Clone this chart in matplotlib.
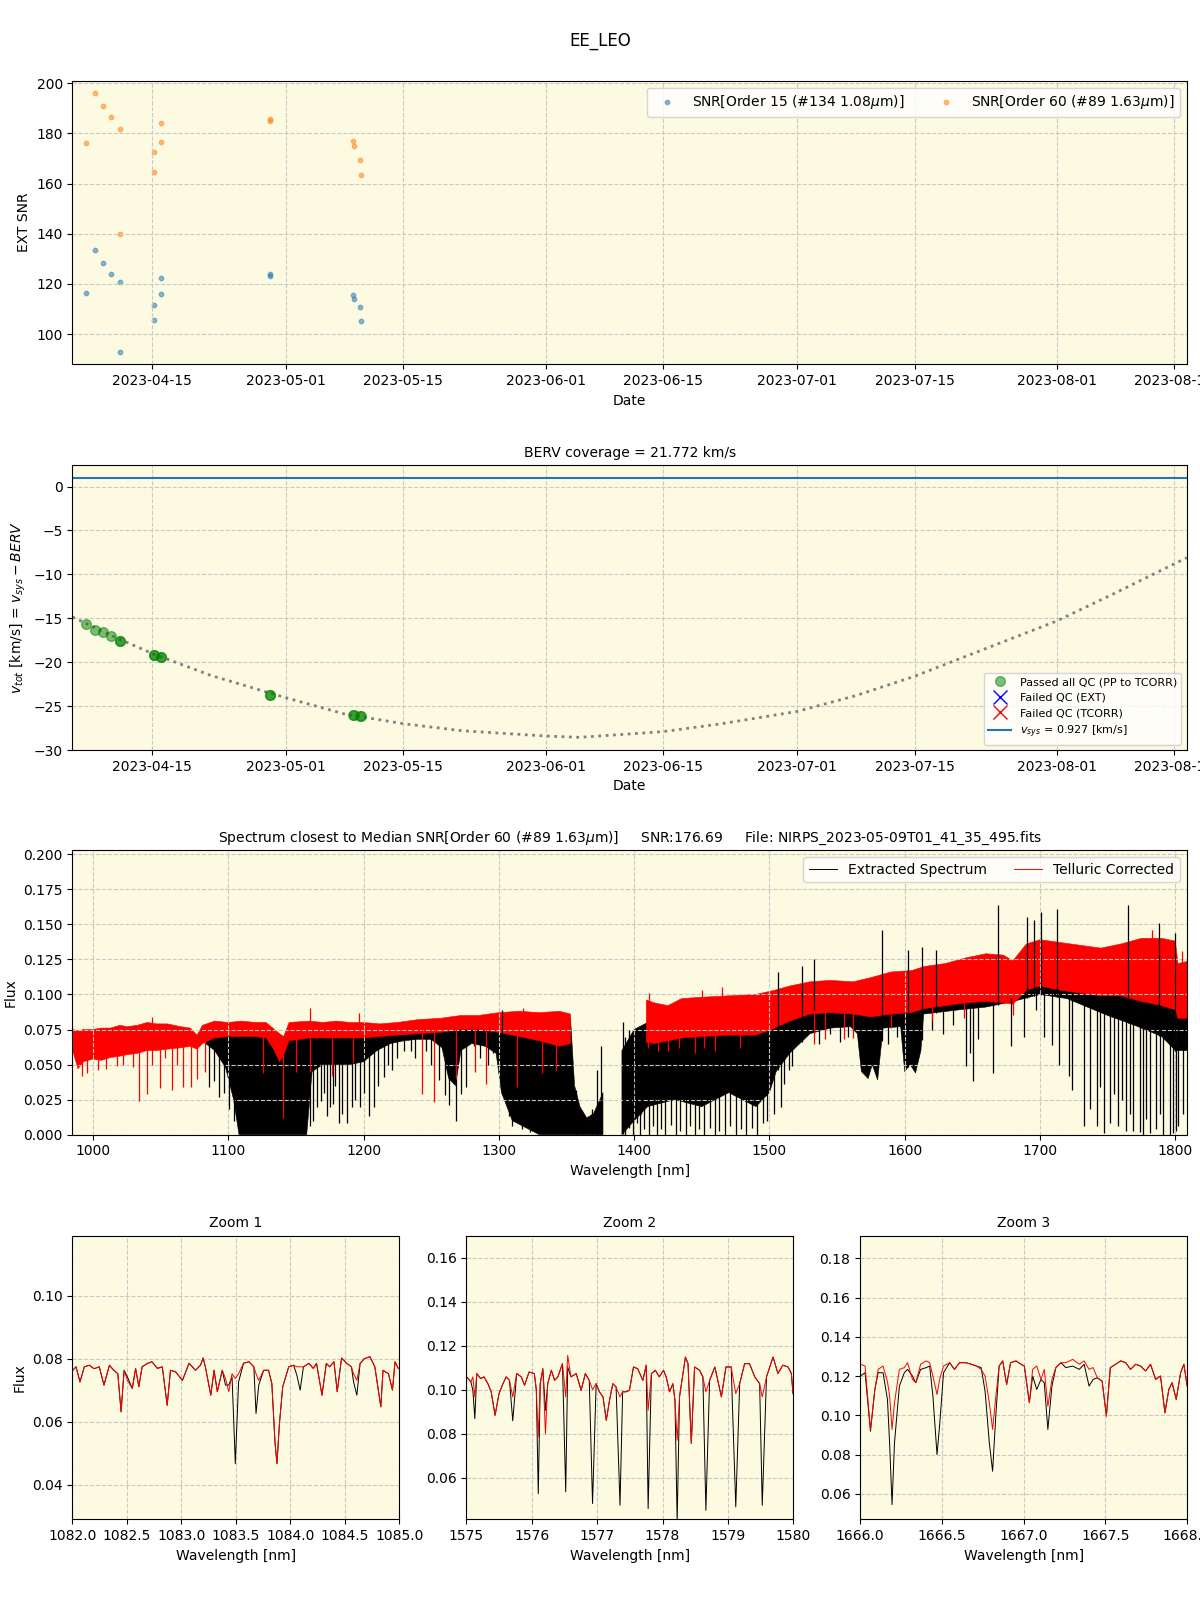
import numpy as np
import pandas as pd
import matplotlib
matplotlib.use('Agg')
import matplotlib.pyplot as plt
import matplotlib.dates as mdates
from matplotlib.lines import Line2D
from matplotlib.ticker import MultipleLocator

obs_dates = ['2023-04-07 03:20', '2023-04-08 04:50', '2023-04-09 04:05', '2023-04-10 02:55',
             '2023-04-11 04:30', '2023-04-11 04:40', '2023-04-15 05:40', '2023-04-15 05:50',
             '2023-04-16 01:40', '2023-04-16 01:50', '2023-04-29 01:10', '2023-04-29 01:20',
             '2023-05-08 22:20', '2023-05-09 01:41', '2023-05-09 21:00', '2023-05-09 21:10']
snr_o15 = [116.3, 133.5, 128.3, 123.9, 120.7, 92.8, 111.6, 105.6,
           122.3, 115.9, 123.9, 123.1, 115.5, 113.9, 110.8, 105.2]
snr_o60 = [176.1, 196.0, 190.8, 186.5, 181.7, 139.9, 172.5, 164.5,
           184.1, 176.5, 185.8, 185.0, 176.9, 174.9, 169.3, 163.3]
vtot = [-15.6, -16.3, -16.6, -17.0, -17.6, -17.6, -19.2, -19.2,
        -19.35, -19.35, -23.7, -23.7, -26.05, -26.05, -26.1, -26.1]

berv_dates = ['2023-04-05 12:00', '2023-04-10 00:00', '2023-04-15 00:00', '2023-04-22 00:00',
              '2023-05-01 00:00', '2023-05-08 00:00', '2023-05-15 00:00', '2023-05-22 00:00',
              '2023-06-01 00:00', '2023-06-05 00:00', '2023-06-15 00:00', '2023-06-22 00:00',
              '2023-07-01 00:00', '2023-07-08 00:00', '2023-07-15 00:00', '2023-07-22 00:00',
              '2023-08-01 00:00', '2023-08-08 00:00', '2023-08-16 12:00']
berv_vtot = [-14.85, -16.9, -19.0, -21.5, -24.05, -25.9, -27.0, -27.8, -28.4, -28.55,
             -27.9, -27.0, -25.6, -23.8, -21.6, -19.0, -15.3, -12.1, -8.1]
vsys = 0.927

# ---- full spectrum: envelopes and individual lines ----
blk_wl = [985, 990, 1000, 1010, 1020, 1030, 1040, 1050, 1060, 1070, 1078, 1082, 1090, 1098,
          1104, 1108, 1120, 1130, 1136, 1142, 1150, 1158, 1162, 1170, 1180, 1190, 1200, 1210,
          1220, 1230, 1240, 1250, 1258, 1263, 1268, 1272, 1280, 1290, 1298, 1302, 1310, 1320,
          1330, 1340, 1350, 1353, 1356, 1360, 1365, 1370, 1377, 1378, 1390, 1391, 1400, 1410,
          1430, 1450, 1470, 1490, 1500, 1505, 1515, 1530, 1545, 1560, 1565, 1568, 1573, 1576,
          1580, 1584, 1597, 1600, 1604, 1608, 1612, 1614, 1640, 1660, 1680, 1700, 1720, 1730,
          1750, 1770, 1790, 1800, 1811]
blk_hi = [0.073, 0.072, 0.072, 0.073, 0.074, 0.075, 0.077, 0.077, 0.076, 0.074, 0.069, 0.075,
          0.078, 0.078, 0.078, 0.078, 0.078, 0.077, 0.068, 0.070, 0.078, 0.078, 0.078, 0.078,
          0.078, 0.078, 0.077, 0.077, 0.077, 0.078, 0.079, 0.080, 0.080, 0.078, 0.078, 0.081,
          0.082, 0.083, 0.084, 0.085, 0.085, 0.085, 0.085, 0.085, 0.084, 0.083, 0.035, 0.020,
          0.012, 0.015, 0.030, np.nan, np.nan, 0.060, 0.075, 0.080, 0.080, 0.082, 0.085, 0.087,
          0.090, 0.095, 0.100, 0.104, 0.106, 0.106, 0.104, 0.103, 0.104, 0.105, 0.106, 0.108,
          0.110, 0.111, 0.111, 0.112, 0.113, 0.115, 0.119, 0.124, 0.120, 0.130, 0.130, 0.128,
          0.128, 0.130, 0.130, 0.120, 0.115]
blk_lo = [0.062, 0.055, 0.056, 0.057, 0.058, 0.060, 0.062, 0.063, 0.064, 0.065, 0.064, 0.066,
          0.060, 0.048, 0.025, 0.0, 0.0, 0.0, 0.0, 0.0, 0.0, 0.0, 0.045, 0.050, 0.050, 0.050,
          0.052, 0.060, 0.065, 0.067, 0.068, 0.068, 0.062, 0.040, 0.035, 0.060, 0.065, 0.063,
          0.058, 0.030, 0.010, 0.005, 0.0, 0.0, 0.0, 0.0, 0.0, 0.0, 0.0, 0.0, 0.0, np.nan,
          np.nan, 0.0, 0.010, 0.020, 0.025, 0.020, 0.030, 0.020, 0.030, 0.045, 0.058, 0.072,
          0.076, 0.077, 0.072, 0.045, 0.040, 0.050, 0.039, 0.076, 0.077, 0.045, 0.050, 0.044,
          0.060, 0.086, 0.089, 0.091, 0.095, 0.100, 0.097, 0.093, 0.085, 0.078, 0.070, 0.060,
          0.060]

red_wl = [985, 989, 993, 1000, 1006, 1013, 1020, 1025, 1033, 1040, 1047, 1055, 1065, 1072,
          1077, 1081, 1090, 1100, 1110, 1120, 1128, 1133, 1138, 1141, 1145, 1160, 1170, 1180,
          1190, 1200, 1212, 1225, 1240, 1257, 1272, 1285, 1300, 1315, 1330, 1345, 1353, 1356,
          1409, 1415, 1425, 1435, 1450, 1470, 1490, 1504, 1515, 1530, 1545, 1562, 1575, 1590,
          1605, 1615, 1630, 1645, 1660, 1673, 1680, 1690, 1700, 1715, 1730, 1745, 1760, 1775,
          1790, 1800, 1802, 1811]
red_hi = [0.075, 0.074, 0.075, 0.075, 0.076, 0.076, 0.078, 0.077, 0.078, 0.080, 0.079, 0.079,
          0.077, 0.076, 0.071, 0.078, 0.081, 0.080, 0.081, 0.080, 0.080, 0.076, 0.072, 0.070,
          0.080, 0.081, 0.080, 0.081, 0.080, 0.080, 0.079, 0.080, 0.082, 0.083, 0.085, 0.085,
          0.087, 0.088, 0.087, 0.088, 0.086, np.nan, 0.096, 0.094, 0.092, 0.097, 0.098, 0.099,
          0.100, 0.103, 0.106, 0.109, 0.110, 0.109, 0.112, 0.116, 0.117, 0.120, 0.122, 0.126,
          0.129, 0.128, 0.124, 0.136, 0.139, 0.137, 0.135, 0.133, 0.136, 0.140, 0.140, 0.138,
          0.122, 0.124]
red_lo = [0.060, 0.047, 0.052, 0.054, 0.053, 0.055, 0.056, 0.057, 0.058, 0.060, 0.060, 0.061,
          0.062, 0.063, 0.061, 0.065, 0.069, 0.070, 0.070, 0.070, 0.069, 0.062, 0.052, 0.057,
          0.067, 0.069, 0.069, 0.069, 0.069, 0.069, 0.070, 0.071, 0.072, 0.073, 0.075, 0.075,
          0.073, 0.070, 0.067, 0.063, 0.065, np.nan, 0.066, 0.065, 0.067, 0.069, 0.070, 0.071,
          0.071, 0.076, 0.081, 0.086, 0.087, 0.086, 0.084, 0.086, 0.087, 0.090, 0.092, 0.094,
          0.095, 0.094, 0.093, 0.103, 0.106, 0.103, 0.101, 0.099, 0.099, 0.095, 0.092, 0.089,
          0.083, 0.083]

blk_line_wl = [1085.5, 1089.7, 1093, 1097, 1100.5, 1104, 1160.8, 1163, 1165.7, 1168.6, 1171,
               1173, 1175, 1177.3, 1179, 1181.7, 1184, 1187.9, 1191.5, 1194, 1197.7, 1200,
               1203.9, 1207.5, 1211, 1215, 1218, 1221, 1225, 1229.7, 1235, 1238, 1246, 1250,
               1255.7, 1260.6, 1263, 1268.5, 1271.7, 1276, 1281.6, 1286, 1292, 1296, 1301.3,
               1307.5, 1310, 1317.3, 1323, 1393, 1396.5, 1399, 1402, 1404.5, 1407, 1411, 1414,
               1417, 1420, 1423, 1427, 1431, 1434, 1438, 1441, 1445, 1448, 1452, 1456, 1460,
               1463, 1467, 1471, 1475, 1479, 1483, 1487, 1491, 1495, 1498, 1503.5, 1508.4,
               1510.9, 1514.6, 1517, 1520.8, 1525.7, 1530.5, 1537, 1545, 1552, 1558, 1588, 1594,
               1620, 1628, 1636, 1645, 1648.4, 1650.8, 1654, 1665.6, 1678.5, 1688.3, 1697, 1703,
               1708.8, 1714.2, 1721.6, 1723.3, 1732.2, 1737.2, 1741.8, 1744.5, 1747.5, 1752,
               1754.4, 1757.4, 1760.3, 1763.2, 1766.2, 1768.9, 1773.8, 1776.4, 1778.7, 1781.2,
               1786.1, 1788.5, 1791, 1796, 1798.3, 1800.7, 1802, 1806]
blk_line_min = [0.034, 0.038, 0.027, 0.030, 0.018, 0.010, 0.006, 0.010, 0.020, 0.024, 0.030,
                0.013, 0.020, 0.022, 0.035, 0.008, 0.015, 0.008, 0.020, 0.025, 0.020, 0.030,
                0.013, 0.020, 0.035, 0.041, 0.050, 0.046, 0.055, 0.060, 0.060, 0.055, 0.060,
                0.050, 0.039, 0.028, 0.021, 0.010, 0.029, 0.034, 0.063, 0.055, 0.050, 0.058,
                0.036, 0.013, 0.006, 0.004, 0.002, 0.0, 0.005, 0.0, 0.008, 0.0, 0.004, 0.0,
                0.006, 0.0, 0.004, 0.0, 0.007, 0.0, 0.003, 0.0, 0.006, 0.0, 0.004, 0.0, 0.005,
                0.0, 0.003, 0.0, 0.006, 0.0, 0.004, 0.0, 0.005, 0.0, 0.008, 0.010, 0.015, 0.020,
                0.036, 0.046, 0.049, 0.067, 0.072, 0.077, 0.065, 0.072, 0.066, 0.070, 0.065,
                0.070, 0.075, 0.072, 0.078, 0.049, 0.058, 0.038, 0.068, 0.044, 0.063, 0.070,
                0.089, 0.070, 0.064, 0.050, 0.042, 0.032, 0.006, 0.018, 0.006, 0.034, 0.001,
                0.008, 0.029, 0.006, 0.025, 0.003, 0.015, 0.003, 0.002, 0.0, 0.011, 0.001,
                0.004, 0.015, 0.0, 0.0, 0.001, 0.003, 0.006, 0.015]
blk_spike_wl = [1302, 1356.8, 1369, 1372.8, 1375.3, 1391.5, 1393, 1396, 1399, 1402, 1405,
                1506, 1524, 1533, 1583, 1602.8, 1612.6, 1623.2, 1669, 1690.3, 1695.2, 1700.7,
                1712.5, 1765.3, 1788.2, 1800]
blk_spike_max = [0.089, 0.032, 0.018, 0.046, 0.063, 0.080, 0.070, 0.075, 0.065, 0.075, 0.072,
                 0.116, 0.120, 0.125, 0.146, 0.132, 0.134, 0.132, 0.164, 0.155, 0.153, 0.159,
                 0.161, 0.164, 0.151, 0.144]
red_line_wl = [992, 996, 1004, 1010, 1018, 1022, 1029.6, 1034.2, 1039.9, 1043.6, 1049.8, 1053,
               1058.4, 1062, 1066.6, 1072.5, 1076.9, 1083, 1125.7, 1140.3, 1150, 1160.8, 1177,
               1192, 1243.4, 1252, 1268, 1282.3, 1290.2, 1313.6, 1332, 1342, 1410, 1418, 1425,
               1433, 1445, 1452, 1460, 1478, 1533, 1541, 1555, 1562, 1590, 1620, 1644, 1680]
red_line_min = [0.042, 0.044, 0.046, 0.047, 0.049, 0.050, 0.048, 0.024, 0.029, 0.050, 0.033,
                0.055, 0.032, 0.050, 0.034, 0.034, 0.040, 0.045, 0.044, 0.012, 0.045, 0.045,
                0.042, 0.052, 0.029, 0.023, 0.040, 0.045, 0.036, 0.034, 0.044, 0.046, 0.062,
                0.060, 0.060, 0.062, 0.058, 0.062, 0.060, 0.062, 0.065, 0.068, 0.068, 0.069,
                0.076, 0.082, 0.083, 0.085]
red_spike_wl = [1044, 1160.7, 1197, 1318, 1411, 1450, 1465, 1782.5, 1805]
red_spike_max = [0.084, 0.090, 0.087, 0.090, 0.101, 0.103, 0.105, 0.146, 0.131]

# ---- zoom windows ----
z1_wl = [1082.003, 1082.034, 1082.07, 1082.11, 1082.155, 1082.2, 1082.247, 1082.29, 1082.34,
         1082.38, 1082.417, 1082.447, 1082.475, 1082.505, 1082.55, 1082.58, 1082.61, 1082.64,
         1082.69, 1082.73, 1082.78, 1082.825, 1082.87, 1082.9, 1082.947, 1083.01, 1083.07,
         1083.13, 1083.175, 1083.2, 1083.22, 1083.27, 1083.3, 1083.33, 1083.375, 1083.405,
         1083.435, 1083.465, 1083.495, 1083.525, 1083.57, 1083.62, 1083.665, 1083.685, 1083.71,
         1083.755, 1083.8, 1083.83, 1083.86, 1083.877, 1083.9, 1083.93, 1083.985, 1084.03,
         1084.06, 1084.09, 1084.12, 1084.17, 1084.21, 1084.24, 1084.29, 1084.33, 1084.36,
         1084.4, 1084.43, 1084.47, 1084.517, 1084.56, 1084.58, 1084.61, 1084.64, 1084.68,
         1084.73, 1084.775, 1084.83, 1084.85, 1084.9, 1084.937, 1084.96, 1084.99]
z1_blk = [0.0763, 0.0774, 0.0726, 0.0774, 0.0779, 0.0768, 0.0774, 0.0716, 0.0779, 0.0763,
          0.0752, 0.0631, 0.0763, 0.0742, 0.0705, 0.0769, 0.0711, 0.0774, 0.0785, 0.0790,
          0.0769, 0.0774, 0.0652, 0.0763, 0.0758, 0.0731, 0.0785, 0.0763, 0.0779, 0.0802,
          0.0774, 0.0684, 0.0763, 0.0695, 0.0763, 0.0716, 0.0716, 0.0742, 0.0467, 0.0726,
          0.0785, 0.0790, 0.0774, 0.0626, 0.0716, 0.0763, 0.0763, 0.0721, 0.0530, 0.0467,
          0.0595, 0.0711, 0.0774, 0.0779, 0.0747, 0.0700, 0.0774, 0.0785, 0.0769, 0.0785,
          0.0684, 0.0785, 0.0774, 0.0790, 0.0695, 0.0802, 0.0785, 0.0774, 0.0726, 0.0684,
          0.0785, 0.0800, 0.0806, 0.0774, 0.0647, 0.0763, 0.0752, 0.0700, 0.0790, 0.0769]
z1_red = [0.0763, 0.0774, 0.0726, 0.0774, 0.0779, 0.0768, 0.0774, 0.0716, 0.0779, 0.0763,
          0.0752, 0.0631, 0.0763, 0.0731, 0.0705, 0.0769, 0.0711, 0.0774, 0.0785, 0.0790,
          0.0769, 0.0774, 0.0652, 0.0763, 0.0758, 0.0731, 0.0785, 0.0763, 0.0779, 0.0802,
          0.0774, 0.0684, 0.0763, 0.0695, 0.0763, 0.0737, 0.0695, 0.0752, 0.0737, 0.0752,
          0.0785, 0.0790, 0.0774, 0.0752, 0.0731, 0.0763, 0.0763, 0.0721, 0.0530, 0.0467,
          0.0595, 0.0711, 0.0774, 0.0779, 0.0774, 0.0774, 0.0774, 0.0785, 0.0769, 0.0785,
          0.0684, 0.0785, 0.0774, 0.0790, 0.0695, 0.0802, 0.0785, 0.0774, 0.0752, 0.0731,
          0.0785, 0.0800, 0.0806, 0.0774, 0.0647, 0.0763, 0.0752, 0.0700, 0.0790, 0.0769]

z2_wl = [1575.005, 1575.07, 1575.1, 1575.13, 1575.16, 1575.22, 1575.27, 1575.33, 1575.38,
         1575.44, 1575.5, 1575.56, 1575.61, 1575.66, 1575.71, 1575.77, 1575.84, 1575.89,
         1575.96, 1576.04, 1576.07, 1576.1, 1576.13, 1576.17, 1576.21, 1576.245, 1576.3,
         1576.35, 1576.4, 1576.47, 1576.52, 1576.55, 1576.6, 1576.68, 1576.755, 1576.82,
         1576.88, 1576.93, 1576.985, 1577.035, 1577.09, 1577.14, 1577.19, 1577.24, 1577.29,
         1577.35, 1577.39, 1577.44, 1577.495, 1577.556, 1577.62, 1577.7, 1577.75, 1577.78,
         1577.83, 1577.89, 1577.95, 1578.015, 1578.056, 1578.107, 1578.158, 1578.19, 1578.224,
         1578.26, 1578.35, 1578.39, 1578.44, 1578.49, 1578.566, 1578.617, 1578.663, 1578.72,
         1578.8, 1578.9, 1578.97, 1579.05, 1579.12, 1579.18, 1579.255, 1579.33, 1579.41,
         1579.485, 1579.525, 1579.59, 1579.69, 1579.765, 1579.84, 1579.92, 1579.97, 1579.995]
z2_blk = [0.1058, 0.1035, 0.0997, 0.0868, 0.1073, 0.1050, 0.1058, 0.1027, 0.0990, 0.0883,
          0.0982, 0.1027, 0.1058, 0.1042, 0.0858, 0.1073, 0.1058, 0.1020, 0.1080, 0.1073,
          0.1000, 0.0527, 0.1027, 0.1095, 0.0906, 0.1027, 0.1088, 0.1042, 0.1058, 0.1118,
          0.0535, 0.1103, 0.1058, 0.1073, 0.0997, 0.1073, 0.1042, 0.0482, 0.1027, 0.0990,
          0.0967, 0.0860, 0.0952, 0.1027, 0.1012, 0.0474, 0.0990, 0.0990, 0.0997, 0.1103,
          0.1095, 0.1042, 0.1111, 0.0459, 0.1073, 0.1088, 0.1058, 0.1088, 0.1058, 0.0990,
          0.1027, 0.0952, 0.0400, 0.0967, 0.1148, 0.1118, 0.0755, 0.1103, 0.1088, 0.1058,
          0.0451, 0.1042, 0.1103, 0.0967, 0.1103, 0.1103, 0.0467, 0.1027, 0.1118, 0.1118,
          0.1058, 0.1027, 0.0474, 0.1058, 0.1148, 0.1073, 0.1111, 0.1103, 0.1073, 0.0982]
z2_red = [0.1058, 0.1035, 0.1058, 0.0967, 0.1073, 0.1050, 0.1058, 0.1027, 0.0990, 0.0883,
          0.0982, 0.1027, 0.1058, 0.1042, 0.0967, 0.1073, 0.1058, 0.1020, 0.1080, 0.1073,
          0.1000, 0.0785, 0.1027, 0.1095, 0.0800, 0.1027, 0.1088, 0.1042, 0.1058, 0.1118,
          0.0967, 0.1156, 0.1058, 0.1073, 0.0997, 0.1073, 0.1042, 0.1000, 0.1027, 0.0990,
          0.0967, 0.0860, 0.0952, 0.1027, 0.1012, 0.0967, 0.0990, 0.0990, 0.0997, 0.1103,
          0.1095, 0.1042, 0.1111, 0.0906, 0.1073, 0.1088, 0.1058, 0.1088, 0.1058, 0.0990,
          0.1027, 0.0952, 0.0770, 0.0967, 0.1148, 0.1118, 0.0755, 0.1103, 0.1088, 0.1058,
          0.0990, 0.1042, 0.1103, 0.0967, 0.1103, 0.1103, 0.0982, 0.1027, 0.1118, 0.1118,
          0.1058, 0.1027, 0.0967, 0.1058, 0.1148, 0.1073, 0.1111, 0.1103, 0.1073, 0.0982]

z3_wl = [1666.002, 1666.03, 1666.063, 1666.09, 1666.11, 1666.14, 1666.167, 1666.18, 1666.195,
         1666.21, 1666.24, 1666.27, 1666.29, 1666.32, 1666.34, 1666.37, 1666.404, 1666.425,
         1666.445, 1666.47, 1666.486, 1666.51, 1666.547, 1666.577, 1666.608, 1666.648,
         1666.68, 1666.71, 1666.74, 1666.764, 1666.79, 1666.81, 1666.83, 1666.85, 1666.872,
         1666.896, 1666.92, 1666.953, 1666.984, 1667.004, 1667.035, 1667.055, 1667.08,
         1667.106, 1667.126, 1667.148, 1667.173, 1667.197, 1667.228, 1667.258, 1667.3,
         1667.34, 1667.37, 1667.4, 1667.425, 1667.45, 1667.48, 1667.506, 1667.53, 1667.563,
         1667.593, 1667.624, 1667.654, 1667.685, 1667.715, 1667.746, 1667.776, 1667.807,
         1667.837, 1667.864, 1667.888, 1667.908, 1667.933, 1667.96, 1667.98, 1668.0]
z3_blk = [0.1200, 0.1217, 0.0919, 0.1132, 0.1217, 0.1217, 0.1080, 0.0860, 0.0545, 0.0860,
          0.1149, 0.1217, 0.1234, 0.1200, 0.1166, 0.1234, 0.1243, 0.1251, 0.1098, 0.0800,
          0.0949, 0.1217, 0.1268, 0.1234, 0.1268, 0.1268, 0.1260, 0.1251, 0.1243, 0.1123,
          0.0860, 0.0715, 0.1004, 0.1251, 0.1277, 0.1157, 0.1268, 0.1277, 0.1260, 0.1251,
          0.1064, 0.1200, 0.1132, 0.1183, 0.1166, 0.0928, 0.1149, 0.1243, 0.1268, 0.1243,
          0.1251, 0.1234, 0.1260, 0.1149, 0.1183, 0.1191, 0.1174, 0.0996, 0.1243, 0.1260,
          0.1277, 0.1268, 0.1234, 0.1260, 0.1251, 0.1226, 0.1260, 0.1183, 0.1200, 0.1013,
          0.1132, 0.1166, 0.1081, 0.1217, 0.1260, 0.1149]
z3_red = [0.1260, 0.1251, 0.0928, 0.1132, 0.1234, 0.1251, 0.1170, 0.1100, 0.0928, 0.1064,
          0.1234, 0.1243, 0.1268, 0.1183, 0.1166, 0.1260, 0.1277, 0.1268, 0.1200, 0.1106,
          0.1183, 0.1251, 0.1268, 0.1234, 0.1268, 0.1268, 0.1260, 0.1251, 0.1234, 0.1200,
          0.1064, 0.0928, 0.1098, 0.1251, 0.1277, 0.1157, 0.1268, 0.1277, 0.1260, 0.1251,
          0.1064, 0.1234, 0.1251, 0.1183, 0.1234, 0.1047, 0.1183, 0.1243, 0.1268, 0.1268,
          0.1285, 0.1260, 0.1277, 0.1234, 0.1243, 0.1191, 0.1174, 0.0996, 0.1243, 0.1260,
          0.1277, 0.1268, 0.1234, 0.1260, 0.1251, 0.1226, 0.1260, 0.1183, 0.1200, 0.1013,
          0.1132, 0.1166, 0.1081, 0.1217, 0.1260, 0.1149]

bg = '#fcfae1'
grid_kw = dict(color='#c8c8c8', linestyle='--', linewidth=0.8)

fig = plt.figure(figsize=(12, 16), dpi=100)
fig.text(0.5, 0.9745, 'EE_LEO', ha='center', va='center', fontsize=12)

dates = pd.to_datetime(obs_dates, format='ISO8601')
xlim_dates = (pd.Timestamp('2023-04-05 12:00'), pd.Timestamp('2023-08-16 12:00'))

# ---- SNR panel ----
ax1 = fig.add_axes([0.0604, 0.7723, 0.9286, 0.1773])
ax1.set_facecolor(bg)
ax1.scatter(dates, snr_o15, s=10, alpha=0.5, color='C0', label=r'SNR[Order 15 (#134 1.08$\mu$m)]')
ax1.scatter(dates, snr_o60, s=10, alpha=0.5, color='C1', label=r'SNR[Order 60 (#89 1.63$\mu$m)]')
ax1.set_xlim(xlim_dates)
ax1.set_ylim(88, 201)
ax1.set_xlabel('Date')
ax1.set_ylabel('EXT SNR')
ax1.legend(loc='upper right', ncol=2)
ax1.grid(**grid_kw)

# ---- BERV panel ----
ax2 = fig.add_axes([0.0604, 0.5312, 0.9286, 0.1779])
ax2.set_facecolor(bg)
ax2.plot(pd.to_datetime(berv_dates, format='ISO8601'), berv_vtot, ':', color='gray', lw=2)
ax2.plot(dates, vtot, 'o', color='green', alpha=0.5, ms=7)
ax2.axhline(vsys, color='C0', lw=1.5)
ax2.set_xlim(xlim_dates)
ax2.set_ylim(-30, 2.4)
ax2.set_xlabel('Date')
ax2.set_ylabel(r'$v_{tot}$ [km/s] = $v_{sys} - BERV$')
ax2.set_title('BERV coverage = 21.772 km/s', fontsize=10)
handles = [Line2D([], [], marker='o', ls='', color='green', alpha=0.5, ms=7),
           Line2D([], [], marker='x', ls='', color='blue', ms=10),
           Line2D([], [], marker='x', ls='', color='red', ms=10),
           Line2D([], [], color='C0', lw=1.5)]
labels = ['Passed all QC (PP to TCORR)', 'Failed QC (EXT)', 'Failed QC (TCORR)',
          r'$v_{sys}$ = %.3f [km/s]' % vsys]
ax2.legend(handles, labels, loc='lower right', fontsize=8)
ax2.grid(**grid_kw)

for ax in (ax1, ax2):
    ax.xaxis.set_major_locator(mdates.DayLocator(bymonthday=[1, 15]))
    ax.xaxis.set_major_formatter(mdates.DateFormatter('%Y-%m-%d'))

# ---- full spectrum ----
bw, bh, bl = np.array(blk_wl, float), np.array(blk_hi), np.array(blk_lo)
rw, rh, rl = np.array(red_wl, float), np.array(red_hi), np.array(red_lo)
okb, okr = ~np.isnan(bh), ~np.isnan(rh)

ax3 = fig.add_axes([0.0604, 0.2908, 0.9286, 0.1779])
ax3.set_facecolor(bg)
ax3.fill_between(bw, bl, bh, color='k', lw=0.4)
ax3.vlines(blk_line_wl, blk_line_min, np.interp(blk_line_wl, bw[okb], bl[okb]) + 0.003,
           color='k', lw=0.9)
ax3.vlines(blk_spike_wl, np.interp(blk_spike_wl, bw[okb], bl[okb]), blk_spike_max,
           color='k', lw=0.9)
ax3.fill_between(rw, rl, rh, color='red', lw=0.4)
ax3.vlines(red_line_wl, red_line_min, np.interp(red_line_wl, rw[okr], rl[okr]) + 0.003,
           color='red', lw=0.9)
ax3.vlines(red_spike_wl, np.interp(red_spike_wl, rw[okr], rh[okr]) - 0.003, red_spike_max,
           color='red', lw=0.9)
ax3.set_xlim(984.9, 1808.5)
ax3.set_ylim(0, 0.2029)
ax3.set_xlabel('Wavelength [nm]')
ax3.set_ylabel('Flux')
ax3.set_title(r'Spectrum closest to Median SNR[Order 60 (#89 1.63$\mu$m)]     SNR:176.69     '
              'File: NIRPS_2023-05-09T01_41_35_495.fits', fontsize=10)
ax3.legend([Line2D([], [], color='k', lw=0.7), Line2D([], [], color='red', lw=0.7)],
           ['Extracted Spectrum', 'Telluric Corrected'], loc='upper right', ncol=2)
ax3.grid(**grid_kw)

# ---- zoom panels ----
zooms = [(z1_wl, z1_blk, z1_red, (1082, 1085), (0.029, 0.119), 0.0603),
         (z2_wl, z2_blk, z2_red, (1575, 1580), (0.041, 0.170), 0.3886),
         (z3_wl, z3_blk, z3_red, (1666, 1668), (0.047, 0.1915), 0.7168)]
for i, (wl, fb, fr, xl, yl, left) in enumerate(zooms):
    ax = fig.add_axes([left, 0.0504, 0.2725, 0.1773])
    ax.set_facecolor(bg)
    ax.plot(wl, fb, color='k', lw=0.7)
    ax.plot(wl, fr, color='red', lw=0.7)
    ax.set_xlim(xl)
    ax.set_ylim(yl)
    ax.yaxis.set_major_locator(MultipleLocator(0.02))
    ax.set_title('Zoom %d' % (i + 1), fontsize=10)
    ax.set_xlabel('Wavelength [nm]')
    if i == 0:
        ax.set_ylabel('Flux')
    ax.grid(**grid_kw)

fig.savefig('out.png', dpi=100)
